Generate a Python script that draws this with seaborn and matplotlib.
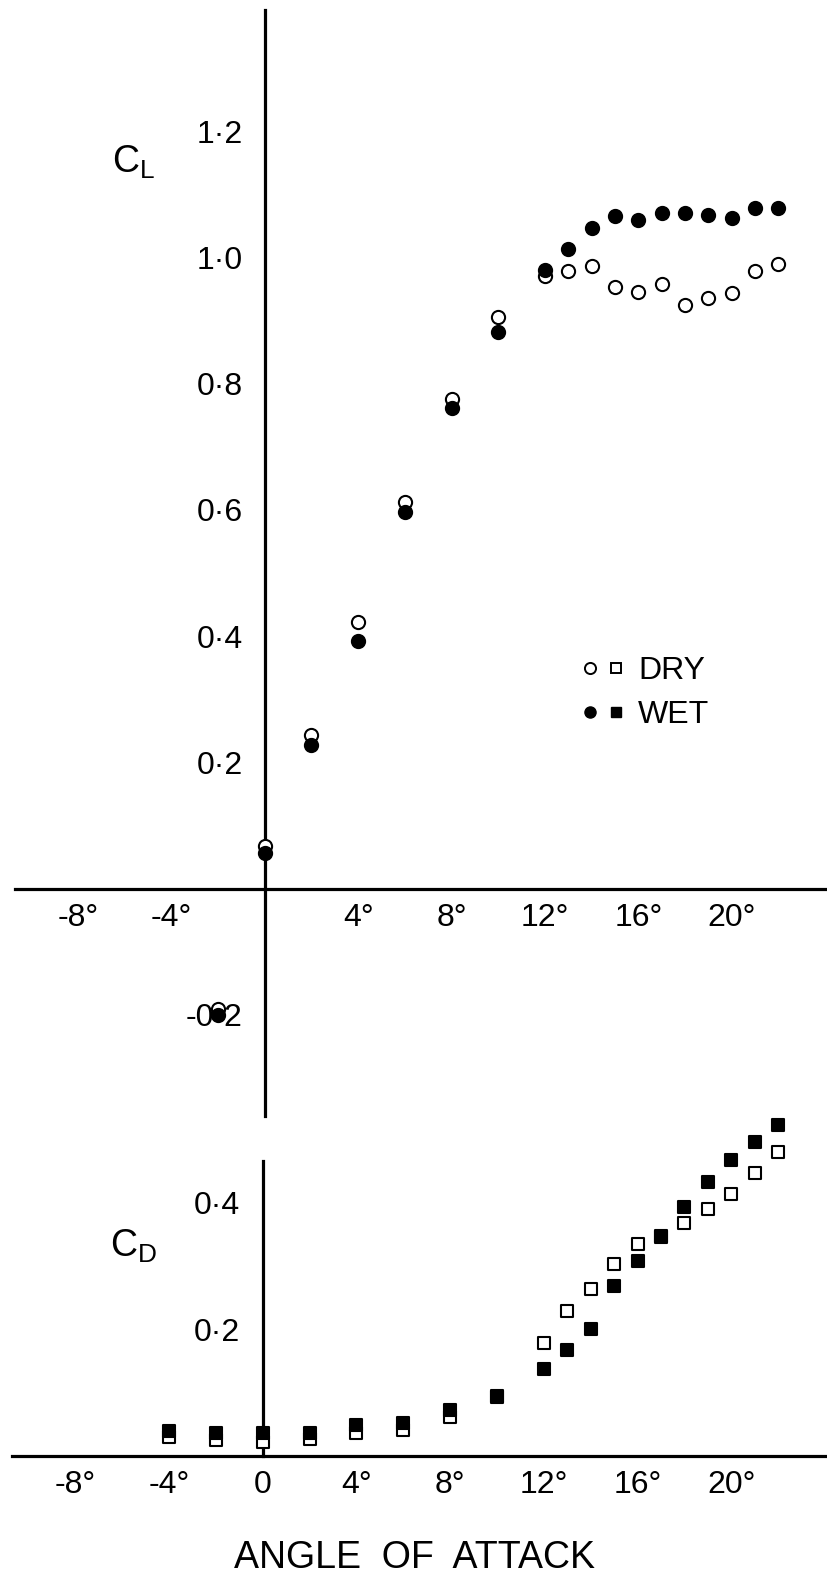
import numpy as np
import pandas as pd
import matplotlib
matplotlib.use("Agg")
import matplotlib.pyplot as plt
import seaborn as sns
from matplotlib.legend_handler import HandlerTuple
from matplotlib.lines import Line2D

# lift coefficient vs angle of attack
cl_angle = [-2, 0, 2, 4, 6, 8, 10, 12, 13, 14, 15, 16, 17, 18, 19, 20, 21, 22]
cl_dry = [-0.19, 0.067, 0.244, 0.423, 0.613, 0.776, 0.905, 0.97, 0.978, 0.986,
          0.953, 0.946, 0.958, 0.925, 0.935, 0.944, 0.979, 0.99]
cl_wet = [-0.2, 0.056, 0.228, 0.393, 0.597, 0.762, 0.882, 0.98, 1.013, 1.047,
          1.066, 1.06, 1.07, 1.07, 1.067, 1.062, 1.078, 1.079]

# drag coefficient
cd_angle = [-4, -2, 0, 2, 4, 6, 8, 10, 12, 13, 14, 15, 16, 17, 18, 19, 20, 21, 22]
cd_dry = [0.03, 0.025, 0.022, 0.027, 0.036, 0.041, 0.061, 0.094, 0.178, 0.229,
          0.264, 0.302, 0.334, 0.345, 0.368, 0.389, 0.413, 0.446, 0.479]
cd_wet = [0.04, 0.036, 0.036, 0.037, 0.049, 0.052, 0.072, 0.093, 0.137, 0.167,
          0.2, 0.268, 0.307, 0.347, 0.393, 0.432, 0.466, 0.495, 0.522]

cl_yticks = [-0.2, 0.2, 0.4, 0.6, 0.8, 1.0, 1.2]
cl_yticklabels = ['-0·2', '0·2', '0·4', '0·6', '0·8', '1·0', '1·2']
cd_yticks = [0.2, 0.4]
cd_yticklabels = ['0·2', '0·4']
top_xticks = [-8, -4, 4, 8, 12, 16, 20]
top_xticklabels = ['-8°', '-4°', '4°', '8°', '12°', '16°', '20°']
bot_xticks = [-8, -4, 0, 4, 8, 12, 16, 20]
bot_xticklabels = ['-8°', '-4°', '0', '4°', '8°', '12°', '16°', '20°']

cl_df = pd.DataFrame({'angle': cl_angle * 2, 'coef': cl_dry + cl_wet,
                      'cond': ['DRY'] * len(cl_angle) + ['WET'] * len(cl_angle)})
cd_df = pd.DataFrame({'angle': cd_angle * 2, 'coef': cd_dry + cd_wet,
                      'cond': ['DRY'] * len(cd_angle) + ['WET'] * len(cd_angle)})

sns.set_style("white")
plt.rcParams['font.family'] = ['Liberation Sans', 'DejaVu Sans']
plt.rcParams['text.color'] = 'black'

W, H = 827, 1584
fig = plt.figure(figsize=(W / 100, H / 100), dpi=100)
ax1 = fig.add_axes([15 / W, 1 - 1116 / H, 810 / W, (1116 - 10) / H])
ax2 = fig.add_axes([12 / W, 1 - 1456 / H, 813 / W, (1456 - 1161) / H])

xlim = (-10.7, 24.0)
face = {'DRY': 'white', 'WET': 'black'}
tick_fs = 23


def style_axis(ax):
    for s in ['top', 'right']:
        ax.spines[s].set_visible(False)
    for s in ['left', 'bottom']:
        ax.spines[s].set_linewidth(2.3)
        ax.spines[s].set_color('black')
    ax.tick_params(axis='x', direction='in', length=12, width=1.8, pad=10,
                   labelsize=tick_fs, colors='black')
    ax.tick_params(axis='y', direction='in', length=11, width=2.4, pad=16,
                   labelsize=tick_fs, colors='black')
    ax.grid(False)


# --- lift panel
for cond in ['DRY', 'WET']:
    sub = cl_df[cl_df.cond == cond]
    sns.scatterplot(data=sub, x='angle', y='coef', ax=ax1, marker='o', s=90,
                    color=face[cond], edgecolor='black', linewidth=1.5,
                    legend=False, zorder=3, clip_on=False)
ax1.set_xlim(*xlim)
ax1.set_ylim(-0.36, 1.392)
ax1.spines['left'].set_position(('data', 0))
ax1.spines['bottom'].set_position(('data', 0))
ax1.set_xticks(top_xticks)
ax1.set_xticklabels(top_xticklabels)
ax1.set_yticks(cl_yticks)
ax1.set_yticklabels(cl_yticklabels)
ax1.set_xlabel('')
ax1.set_ylabel('')
style_axis(ax1)
ax1.text(-5.6, 1.15, r'$\mathregular{C_L}$', fontsize=27, ha='center', va='center')

# legend: open/filled circle + square per condition
h_dry = (Line2D([], [], ls='', marker='o', ms=8, mfc='white', mec='black', mew=1.4),
         Line2D([], [], ls='', marker='s', ms=7, mfc='white', mec='black', mew=1.4))
h_wet = (Line2D([], [], ls='', marker='o', ms=8, mfc='black', mec='black'),
         Line2D([], [], ls='', marker='s', ms=7, mfc='black', mec='black'))
ax1.legend([h_dry, h_wet], ['DRY', 'WET'],
           handler_map={tuple: HandlerTuple(ndivide=None, pad=0.3)},
           loc='center left', bbox_to_anchor=(582 / W, 1 - 693 / H),
           bbox_transform=fig.transFigure, frameon=False, fontsize=tick_fs,
           handlelength=1.3, handletextpad=0.45, labelspacing=0.45,
           borderpad=0, borderaxespad=0)

# --- drag panel
for cond in ['DRY', 'WET']:
    sub = cd_df[cd_df.cond == cond]
    sns.scatterplot(data=sub, x='angle', y='coef', ax=ax2, marker='s', s=70,
                    color=face[cond], edgecolor='black', linewidth=1.5,
                    legend=False, zorder=3, clip_on=False)
ax2.set_xlim(*xlim)
ax2.set_ylim(0, 0.465)
ax2.spines['left'].set_position(('data', 0))
ax2.set_xticks(bot_xticks)
ax2.set_xticklabels(bot_xticklabels)
ax2.set_yticks(cd_yticks)
ax2.set_yticklabels(cd_yticklabels)
ax2.set_xlabel('')
ax2.set_ylabel('')
style_axis(ax2)
ax2.text(-5.5, 0.33, r'$\mathregular{C_D}$', fontsize=27, ha='center', va='center')

fig.text(414 / W, 1 - 1558 / H, 'ANGLE  OF  ATTACK', fontsize=27,
         ha='center', va='center')

fig.savefig('out.png', dpi=100)
